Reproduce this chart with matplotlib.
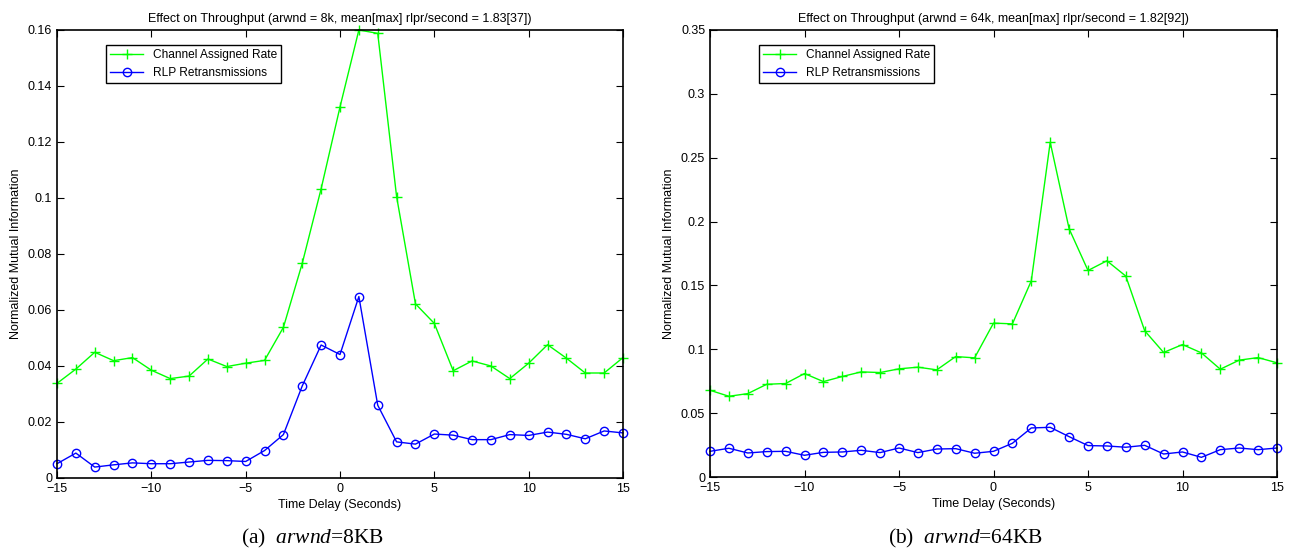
import matplotlib
matplotlib.use('Agg')
import matplotlib.pyplot as plt

plt.rcParams['font.family'] = 'Liberation Sans'
plt.rcParams['mathtext.fontset'] = 'custom'
plt.rcParams['mathtext.rm'] = 'Liberation Serif'
plt.rcParams['mathtext.it'] = 'Liberation Serif:italic'

delay = list(range(-15, 16))

# arwnd = 8KB
rate_8k = [0.0338, 0.0389, 0.0449, 0.0419, 0.0430, 0.0385, 0.0355, 0.0364, 0.0425, 0.0398,
           0.0410, 0.0420, 0.0538, 0.0767, 0.1033, 0.1325, 0.1600, 0.1588, 0.1005, 0.0622,
           0.0552, 0.0383, 0.0418, 0.0400, 0.0355, 0.0410, 0.0476, 0.0428, 0.0375, 0.0375,
           0.0430]
rlp_8k = [0.0051, 0.0089, 0.0039, 0.0047, 0.0054, 0.0051, 0.0051, 0.0057, 0.0063, 0.0062,
          0.0059, 0.0098, 0.0155, 0.0329, 0.0475, 0.0441, 0.0648, 0.0260, 0.0129, 0.0121,
          0.0157, 0.0153, 0.0137, 0.0137, 0.0155, 0.0152, 0.0164, 0.0156, 0.0140, 0.0168,
          0.0161]

# arwnd = 64KB
rate_64k = [0.0679, 0.0632, 0.0653, 0.0726, 0.0732, 0.0810, 0.0747, 0.0787, 0.0823, 0.0818,
            0.0847, 0.0860, 0.0839, 0.0943, 0.0933, 0.1205, 0.1199, 0.1536, 0.2621, 0.1944,
            0.1617, 0.1693, 0.1573, 0.1145, 0.0975, 0.1037, 0.0972, 0.0844, 0.0915, 0.0935,
            0.0894]
rlp_64k = [0.0201, 0.0225, 0.0188, 0.0199, 0.0201, 0.0170, 0.0193, 0.0196, 0.0209, 0.0191,
           0.0227, 0.0191, 0.0219, 0.0222, 0.0186, 0.0201, 0.0264, 0.0384, 0.0389, 0.0316,
           0.0246, 0.0243, 0.0233, 0.0248, 0.0180, 0.0196, 0.0154, 0.0214, 0.0227, 0.0214,
           0.0227]

titles = ['Effect on Throughput (arwnd = 8k, mean[max] rlpr/second = 1.83[37])',
          'Effect on Throughput (arwnd = 64k, mean[max] rlpr/second = 1.82[92])']
captions = ['(a)  $\\mathit{arwnd}$=8KB', '(b)  $\\mathit{arwnd}$=64KB']
yticks_8k = [0, 0.02, 0.04, 0.06, 0.08, 0.1, 0.12, 0.14, 0.16]
yticks_64k = [0, 0.05, 0.1, 0.15, 0.2, 0.25, 0.3, 0.35]
xticks = [-15, -10, -5, 0, 5, 10, 15]

fig = plt.figure(figsize=(12.92, 5.57), dpi=100)
ax1 = fig.add_axes([57/1292, 79/557, 566/1292, 448/557])
ax2 = fig.add_axes([710/1292, 80/557, 567/1292, 447/557])

panels = [(ax1, rate_8k, rlp_8k, yticks_8k, 0.16),
          (ax2, rate_64k, rlp_64k, yticks_64k, 0.35)]

for i, (ax, rate, rlp, yt, ytop) in enumerate(panels):
    ax.plot(delay, rate, color=(0, 1, 0), marker='+', markersize=7, lw=1,
            label='Channel Assigned Rate', clip_on=False)
    ax.plot(delay, rlp, color=(0, 0, 1), marker='o', markersize=6, lw=1,
            markerfacecolor='none', label='RLP Retransmissions', clip_on=False)
    ax.set_xlim(-15, 15)
    ax.set_ylim(0, ytop)
    ax.set_xticks(xticks)
    ax.set_xticklabels(['\u221215', '\u221210', '\u22125', '0', '5', '10', '15'])
    ax.set_yticks(yt)
    ax.set_yticklabels(['%g' % v for v in yt])
    ax.tick_params(direction='in', top=True, right=True, labelsize=9, length=5, width=0.8)
    for s in ax.spines.values():
        s.set_linewidth(1.2)
    ax.set_title(titles[i], fontsize=9, pad=6)
    ax.set_xlabel('Time Delay (Seconds)', fontsize=9, labelpad=3)
    ax.set_ylabel('Normalized Mutual Information', fontsize=9, labelpad=4)
    leg = ax.legend(loc='upper left', bbox_to_anchor=(0.086, 0.966), borderaxespad=0,
                    fontsize=8.6, fancybox=False, framealpha=1, edgecolor='black',
                    handlelength=2.8, borderpad=0.35, labelspacing=0.45)
    leg.get_frame().set_linewidth(1.0)

fig.text(313/1292, 1 - 538/557, captions[0], family='Liberation Serif', fontsize=15.5,
         ha='center', va='center')
fig.text(966/1292, 1 - 538/557, captions[1], family='Liberation Serif', fontsize=15.5,
         ha='center', va='center')

fig.savefig('out.png', dpi=100)
